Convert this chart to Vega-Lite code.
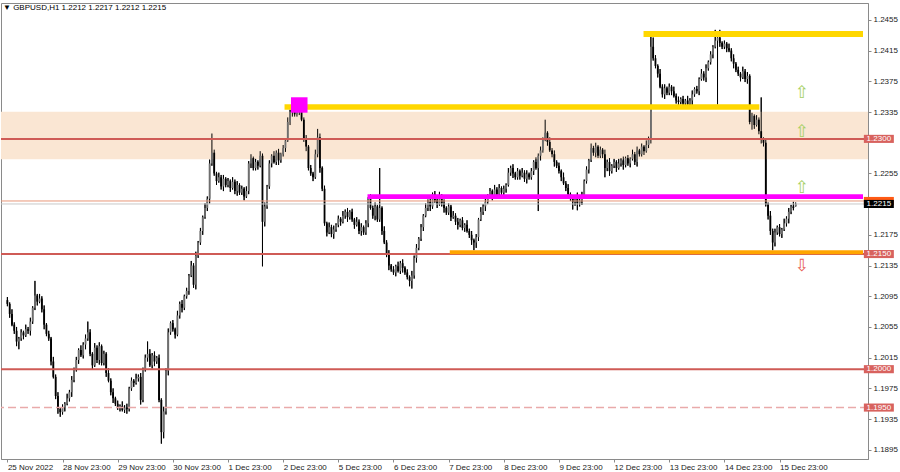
{
"$schema":"https://vega.github.io/schema/vega-lite/v6.json",
"width":867,"height":456,
"autosize":{"type":"none"},
"padding":{"left":1,"top":3,"right":32,"bottom":13},
"background":"white",
"title":{"text":"▼ GBPUSD,H1  1.2212 1.2217 1.2212 1.2215","anchor":"start","offset":-9,"dx":3,"font":"Liberation Sans","fontSize":8,"fontWeight":"normal","color":"#000"},
"config":{"view":{"stroke":"#8a8a8a","strokeWidth":1},"axis":{"labelOverlap":false,"labelBound":false,"labelFlush":false}},
"resolve":{"scale":{"color":"independent","strokeWidth":"independent"}},
"datasets":{"c":[
{"i":0,"o":1.2090,"h":1.2094,"l":1.2082,"c":1.2085},
{"i":1,"o":1.2085,"h":1.2087,"l":1.2067,"c":1.2072},
{"i":2,"o":1.2072,"h":1.2078,"l":1.2056,"c":1.2058},
{"i":3,"o":1.2058,"h":1.2061,"l":1.2046,"c":1.2050},
{"i":4,"o":1.2050,"h":1.2055,"l":1.2030,"c":1.2036},
{"i":5,"o":1.2036,"h":1.2042,"l":1.2026,"c":1.2040},
{"i":6,"o":1.2040,"h":1.2052,"l":1.2037,"c":1.2048},
{"i":7,"o":1.2048,"h":1.2050,"l":1.2039,"c":1.2044},
{"i":8,"o":1.2044,"h":1.2058,"l":1.2042,"c":1.2052},
{"i":9,"o":1.2052,"h":1.2055,"l":1.2046,"c":1.2050},
{"i":10,"o":1.2050,"h":1.2067,"l":1.2044,"c":1.2062},
{"i":11,"o":1.2062,"h":1.2082,"l":1.2059,"c":1.2080},
{"i":12,"o":1.2080,"h":1.2115,"l":1.2077,"c":1.2096},
{"i":13,"o":1.2096,"h":1.2098,"l":1.2083,"c":1.2088},
{"i":14,"o":1.2088,"h":1.2098,"l":1.2086,"c":1.2092},
{"i":15,"o":1.2092,"h":1.2095,"l":1.2074,"c":1.2078},
{"i":16,"o":1.2078,"h":1.2083,"l":1.2052,"c":1.2058},
{"i":17,"o":1.2058,"h":1.2060,"l":1.2043,"c":1.2046},
{"i":18,"o":1.2046,"h":1.2050,"l":1.2037,"c":1.2040},
{"i":19,"o":1.2040,"h":1.2042,"l":1.2005,"c":1.2010},
{"i":20,"o":1.2010,"h":1.2016,"l":1.1988,"c":1.1990},
{"i":21,"o":1.1990,"h":1.1993,"l":1.1961,"c":1.1965},
{"i":22,"o":1.1965,"h":1.1970,"l":1.1942,"c":1.1948},
{"i":23,"o":1.1948,"h":1.1950,"l":1.1938,"c":1.1944},
{"i":24,"o":1.1944,"h":1.1954,"l":1.1941,"c":1.1950},
{"i":25,"o":1.1950,"h":1.1957,"l":1.1945,"c":1.1955},
{"i":26,"o":1.1955,"h":1.1968,"l":1.1953,"c":1.1962},
{"i":27,"o":1.1962,"h":1.1973,"l":1.1958,"c":1.1970},
{"i":28,"o":1.1970,"h":1.1991,"l":1.1964,"c":1.1986},
{"i":29,"o":1.1986,"h":1.2002,"l":1.1983,"c":1.2000},
{"i":30,"o":1.2000,"h":1.2016,"l":1.1997,"c":1.2012},
{"i":31,"o":1.2012,"h":1.2027,"l":1.2007,"c":1.2025},
{"i":32,"o":1.2025,"h":1.2031,"l":1.2016,"c":1.2018},
{"i":33,"o":1.2018,"h":1.2035,"l":1.2014,"c":1.2032},
{"i":34,"o":1.2032,"h":1.2045,"l":1.2026,"c":1.2040},
{"i":35,"o":1.2040,"h":1.2062,"l":1.2037,"c":1.2048},
{"i":36,"o":1.2048,"h":1.2052,"l":1.2017,"c":1.2020},
{"i":37,"o":1.2020,"h":1.2022,"l":1.2000,"c":1.2005},
{"i":38,"o":1.2005,"h":1.2034,"l":1.2003,"c":1.2028},
{"i":39,"o":1.2028,"h":1.2031,"l":1.2008,"c":1.2012},
{"i":40,"o":1.2012,"h":1.2035,"l":1.2006,"c":1.2030},
{"i":41,"o":1.2030,"h":1.2032,"l":1.2005,"c":1.2008},
{"i":42,"o":1.2008,"h":1.2024,"l":1.2005,"c":1.2020},
{"i":43,"o":1.2020,"h":1.2022,"l":1.1990,"c":1.1995},
{"i":44,"o":1.1995,"h":1.2001,"l":1.1983,"c":1.1985},
{"i":45,"o":1.1985,"h":1.1988,"l":1.1966,"c":1.1970},
{"i":46,"o":1.1970,"h":1.1975,"l":1.1956,"c":1.1962},
{"i":47,"o":1.1962,"h":1.1964,"l":1.1952,"c":1.1955},
{"i":48,"o":1.1955,"h":1.1959,"l":1.1947,"c":1.1950},
{"i":49,"o":1.1950,"h":1.1954,"l":1.1945,"c":1.1952},
{"i":50,"o":1.1952,"h":1.1958,"l":1.1945,"c":1.1947},
{"i":51,"o":1.1947,"h":1.1953,"l":1.1943,"c":1.1950},
{"i":52,"o":1.1950,"h":1.1955,"l":1.1942,"c":1.1948},
{"i":53,"o":1.1948,"h":1.1977,"l":1.1945,"c":1.1975},
{"i":54,"o":1.1975,"h":1.1989,"l":1.1972,"c":1.1985},
{"i":55,"o":1.1985,"h":1.1987,"l":1.1977,"c":1.1982},
{"i":56,"o":1.1982,"h":1.1994,"l":1.1980,"c":1.1988},
{"i":57,"o":1.1988,"h":1.1993,"l":1.1984,"c":1.1990},
{"i":58,"o":1.1990,"h":1.1995,"l":1.1954,"c":1.1960},
{"i":59,"o":1.1960,"h":1.2002,"l":1.1957,"c":1.2000},
{"i":60,"o":1.2000,"h":1.2019,"l":1.1997,"c":1.2015},
{"i":61,"o":1.2015,"h":1.2036,"l":1.2010,"c":1.2020},
{"i":62,"o":1.2020,"h":1.2026,"l":1.2003,"c":1.2005},
{"i":63,"o":1.2005,"h":1.2021,"l":1.2001,"c":1.2018},
{"i":64,"o":1.2018,"h":1.2023,"l":1.2004,"c":1.2010},
{"i":65,"o":1.2010,"h":1.2017,"l":1.2007,"c":1.2015},
{"i":66,"o":1.2015,"h":1.2019,"l":1.1957,"c":1.1960},
{"i":67,"o":1.1960,"h":1.1962,"l":1.1903,"c":1.1918},
{"i":68,"o":1.1918,"h":1.1951,"l":1.1910,"c":1.1945},
{"i":69,"o":1.1945,"h":1.2001,"l":1.1941,"c":1.1998},
{"i":70,"o":1.1998,"h":1.2053,"l":1.1992,"c":1.2048},
{"i":71,"o":1.2048,"h":1.2062,"l":1.2045,"c":1.2060},
{"i":72,"o":1.2060,"h":1.2064,"l":1.2049,"c":1.2052},
{"i":73,"o":1.2052,"h":1.2054,"l":1.2040,"c":1.2045},
{"i":74,"o":1.2045,"h":1.2076,"l":1.2043,"c":1.2070},
{"i":75,"o":1.2070,"h":1.2088,"l":1.2066,"c":1.2085},
{"i":76,"o":1.2085,"h":1.2090,"l":1.2074,"c":1.2080},
{"i":77,"o":1.2080,"h":1.2097,"l":1.2077,"c":1.2095},
{"i":78,"o":1.2095,"h":1.2106,"l":1.2092,"c":1.2102},
{"i":79,"o":1.2102,"h":1.2124,"l":1.2097,"c":1.2122},
{"i":80,"o":1.2122,"h":1.2141,"l":1.2120,"c":1.2135},
{"i":81,"o":1.2135,"h":1.2138,"l":1.2106,"c":1.2110},
{"i":82,"o":1.2110,"h":1.2153,"l":1.2104,"c":1.2148},
{"i":83,"o":1.2148,"h":1.2167,"l":1.2145,"c":1.2165},
{"i":84,"o":1.2165,"h":1.2184,"l":1.2162,"c":1.2180},
{"i":85,"o":1.2180,"h":1.2200,"l":1.2175,"c":1.2198},
{"i":86,"o":1.2198,"h":1.2216,"l":1.2196,"c":1.2210},
{"i":87,"o":1.2210,"h":1.2225,"l":1.2206,"c":1.2222},
{"i":88,"o":1.2222,"h":1.2273,"l":1.2216,"c":1.2268},
{"i":89,"o":1.2268,"h":1.2307,"l":1.2265,"c":1.2282},
{"i":90,"o":1.2282,"h":1.2286,"l":1.2252,"c":1.2255},
{"i":91,"o":1.2255,"h":1.2257,"l":1.2240,"c":1.2245},
{"i":92,"o":1.2245,"h":1.2256,"l":1.2243,"c":1.2250},
{"i":93,"o":1.2250,"h":1.2253,"l":1.2234,"c":1.2238},
{"i":94,"o":1.2238,"h":1.2253,"l":1.2232,"c":1.2248},
{"i":95,"o":1.2248,"h":1.2250,"l":1.2237,"c":1.2240},
{"i":96,"o":1.2240,"h":1.2249,"l":1.2237,"c":1.2245},
{"i":97,"o":1.2245,"h":1.2247,"l":1.2231,"c":1.2236},
{"i":98,"o":1.2236,"h":1.2250,"l":1.2234,"c":1.2244},
{"i":99,"o":1.2244,"h":1.2247,"l":1.2228,"c":1.2232},
{"i":100,"o":1.2232,"h":1.2245,"l":1.2226,"c":1.2240},
{"i":101,"o":1.2240,"h":1.2242,"l":1.2227,"c":1.2230},
{"i":102,"o":1.2230,"h":1.2239,"l":1.2227,"c":1.2235},
{"i":103,"o":1.2235,"h":1.2237,"l":1.2220,"c":1.2225},
{"i":104,"o":1.2225,"h":1.2238,"l":1.2223,"c":1.2232},
{"i":105,"o":1.2232,"h":1.2271,"l":1.2228,"c":1.2268},
{"i":106,"o":1.2268,"h":1.2280,"l":1.2262,"c":1.2275},
{"i":107,"o":1.2275,"h":1.2277,"l":1.2259,"c":1.2262},
{"i":108,"o":1.2262,"h":1.2274,"l":1.2259,"c":1.2270},
{"i":109,"o":1.2270,"h":1.2272,"l":1.2260,"c":1.2265},
{"i":110,"o":1.2265,"h":1.2284,"l":1.2263,"c":1.2278},
{"i":111,"o":1.2278,"h":1.2281,"l":1.2134,"c":1.2192},
{"i":112,"o":1.2192,"h":1.2217,"l":1.2186,"c":1.2212},
{"i":113,"o":1.2212,"h":1.2240,"l":1.2209,"c":1.2238},
{"i":114,"o":1.2238,"h":1.2272,"l":1.2235,"c":1.2268},
{"i":115,"o":1.2268,"h":1.2280,"l":1.2263,"c":1.2278},
{"i":116,"o":1.2278,"h":1.2284,"l":1.2268,"c":1.2270},
{"i":117,"o":1.2270,"h":1.2285,"l":1.2266,"c":1.2282},
{"i":118,"o":1.2282,"h":1.2287,"l":1.2266,"c":1.2272},
{"i":119,"o":1.2272,"h":1.2282,"l":1.2269,"c":1.2280},
{"i":120,"o":1.2280,"h":1.2292,"l":1.2277,"c":1.2288},
{"i":121,"o":1.2288,"h":1.2300,"l":1.2283,"c":1.2298},
{"i":122,"o":1.2298,"h":1.2328,"l":1.2296,"c":1.2322},
{"i":123,"o":1.2322,"h":1.2338,"l":1.2318,"c":1.2335},
{"i":124,"o":1.2335,"h":1.2345,"l":1.2329,"c":1.2340},
{"i":125,"o":1.2340,"h":1.2342,"l":1.2329,"c":1.2332},
{"i":126,"o":1.2332,"h":1.2344,"l":1.2329,"c":1.2340},
{"i":127,"o":1.2340,"h":1.2342,"l":1.2331,"c":1.2336},
{"i":128,"o":1.2336,"h":1.2342,"l":1.2323,"c":1.2325},
{"i":129,"o":1.2325,"h":1.2328,"l":1.2296,"c":1.2300},
{"i":130,"o":1.2300,"h":1.2305,"l":1.2284,"c":1.2290},
{"i":131,"o":1.2290,"h":1.2292,"l":1.2259,"c":1.2262},
{"i":132,"o":1.2262,"h":1.2266,"l":1.2252,"c":1.2255},
{"i":133,"o":1.2255,"h":1.2257,"l":1.2245,"c":1.2250},
{"i":134,"o":1.2250,"h":1.2286,"l":1.2248,"c":1.2280},
{"i":135,"o":1.2280,"h":1.2313,"l":1.2276,"c":1.2302},
{"i":136,"o":1.2302,"h":1.2307,"l":1.2256,"c":1.2262},
{"i":137,"o":1.2262,"h":1.2264,"l":1.2232,"c":1.2235},
{"i":138,"o":1.2235,"h":1.2239,"l":1.2187,"c":1.2190},
{"i":139,"o":1.2190,"h":1.2192,"l":1.2173,"c":1.2178},
{"i":140,"o":1.2178,"h":1.2191,"l":1.2176,"c":1.2185},
{"i":141,"o":1.2185,"h":1.2188,"l":1.2172,"c":1.2176},
{"i":142,"o":1.2176,"h":1.2187,"l":1.2170,"c":1.2182},
{"i":143,"o":1.2182,"h":1.2190,"l":1.2179,"c":1.2188},
{"i":144,"o":1.2188,"h":1.2200,"l":1.2185,"c":1.2196},
{"i":145,"o":1.2196,"h":1.2198,"l":1.2187,"c":1.2192},
{"i":146,"o":1.2192,"h":1.2206,"l":1.2190,"c":1.2200},
{"i":147,"o":1.2200,"h":1.2208,"l":1.2196,"c":1.2205},
{"i":148,"o":1.2205,"h":1.2210,"l":1.2192,"c":1.2198},
{"i":149,"o":1.2198,"h":1.2207,"l":1.2195,"c":1.2205},
{"i":150,"o":1.2205,"h":1.2209,"l":1.2192,"c":1.2195},
{"i":151,"o":1.2195,"h":1.2197,"l":1.2183,"c":1.2188},
{"i":152,"o":1.2188,"h":1.2198,"l":1.2186,"c":1.2192},
{"i":153,"o":1.2192,"h":1.2195,"l":1.2176,"c":1.2180},
{"i":154,"o":1.2180,"h":1.2190,"l":1.2174,"c":1.2185},
{"i":155,"o":1.2185,"h":1.2187,"l":1.2175,"c":1.2178},
{"i":156,"o":1.2178,"h":1.2194,"l":1.2175,"c":1.2190},
{"i":157,"o":1.2190,"h":1.2224,"l":1.2185,"c":1.2222},
{"i":158,"o":1.2222,"h":1.2228,"l":1.2208,"c":1.2210},
{"i":159,"o":1.2210,"h":1.2213,"l":1.2196,"c":1.2200},
{"i":160,"o":1.2200,"h":1.2217,"l":1.2194,"c":1.2212},
{"i":161,"o":1.2212,"h":1.2214,"l":1.2192,"c":1.2195},
{"i":162,"o":1.2195,"h":1.2262,"l":1.2192,"c":1.2210},
{"i":163,"o":1.2210,"h":1.2212,"l":1.2175,"c":1.2180},
{"i":164,"o":1.2180,"h":1.2186,"l":1.2163,"c":1.2165},
{"i":165,"o":1.2165,"h":1.2168,"l":1.2146,"c":1.2150},
{"i":166,"o":1.2150,"h":1.2155,"l":1.2129,"c":1.2135},
{"i":167,"o":1.2135,"h":1.2137,"l":1.2127,"c":1.2130},
{"i":168,"o":1.2130,"h":1.2134,"l":1.2123,"c":1.2126},
{"i":169,"o":1.2126,"h":1.2136,"l":1.2121,"c":1.2134},
{"i":170,"o":1.2134,"h":1.2140,"l":1.2126,"c":1.2128},
{"i":171,"o":1.2128,"h":1.2141,"l":1.2124,"c":1.2138},
{"i":172,"o":1.2138,"h":1.2143,"l":1.2126,"c":1.2132},
{"i":173,"o":1.2132,"h":1.2134,"l":1.2123,"c":1.2126},
{"i":174,"o":1.2126,"h":1.2130,"l":1.2117,"c":1.2120},
{"i":175,"o":1.2120,"h":1.2122,"l":1.2108,"c":1.2115},
{"i":176,"o":1.2115,"h":1.2128,"l":1.2105,"c":1.2122},
{"i":177,"o":1.2122,"h":1.2148,"l":1.2118,"c":1.2145},
{"i":178,"o":1.2145,"h":1.2163,"l":1.2139,"c":1.2158},
{"i":179,"o":1.2158,"h":1.2172,"l":1.2155,"c":1.2170},
{"i":180,"o":1.2170,"h":1.2189,"l":1.2167,"c":1.2185},
{"i":181,"o":1.2185,"h":1.2202,"l":1.2180,"c":1.2200},
{"i":182,"o":1.2200,"h":1.2216,"l":1.2198,"c":1.2210},
{"i":183,"o":1.2210,"h":1.2221,"l":1.2206,"c":1.2218},
{"i":184,"o":1.2218,"h":1.2223,"l":1.2206,"c":1.2212},
{"i":185,"o":1.2212,"h":1.2230,"l":1.2209,"c":1.2228},
{"i":186,"o":1.2228,"h":1.2232,"l":1.2217,"c":1.2220},
{"i":187,"o":1.2220,"h":1.2222,"l":1.2210,"c":1.2215},
{"i":188,"o":1.2215,"h":1.2231,"l":1.2213,"c":1.2225},
{"i":189,"o":1.2225,"h":1.2228,"l":1.2212,"c":1.2216},
{"i":190,"o":1.2216,"h":1.2221,"l":1.2204,"c":1.2210},
{"i":191,"o":1.2210,"h":1.2212,"l":1.2201,"c":1.2204},
{"i":192,"o":1.2204,"h":1.2216,"l":1.2201,"c":1.2212},
{"i":193,"o":1.2212,"h":1.2214,"l":1.2193,"c":1.2198},
{"i":194,"o":1.2198,"h":1.2206,"l":1.2196,"c":1.2200},
{"i":195,"o":1.2200,"h":1.2203,"l":1.2188,"c":1.2192},
{"i":196,"o":1.2192,"h":1.2197,"l":1.2182,"c":1.2188},
{"i":197,"o":1.2188,"h":1.2196,"l":1.2185,"c":1.2194},
{"i":198,"o":1.2194,"h":1.2198,"l":1.2181,"c":1.2184},
{"i":199,"o":1.2184,"h":1.2190,"l":1.2179,"c":1.2188},
{"i":200,"o":1.2188,"h":1.2194,"l":1.2178,"c":1.2180},
{"i":201,"o":1.2180,"h":1.2183,"l":1.2171,"c":1.2175},
{"i":202,"o":1.2175,"h":1.2180,"l":1.2162,"c":1.2168},
{"i":203,"o":1.2168,"h":1.2170,"l":1.2155,"c":1.2165},
{"i":204,"o":1.2165,"h":1.2176,"l":1.2158,"c":1.2172},
{"i":205,"o":1.2172,"h":1.2197,"l":1.2167,"c":1.2195},
{"i":206,"o":1.2195,"h":1.2211,"l":1.2193,"c":1.2205},
{"i":207,"o":1.2205,"h":1.2215,"l":1.2201,"c":1.2212},
{"i":208,"o":1.2212,"h":1.2223,"l":1.2206,"c":1.2218},
{"i":209,"o":1.2218,"h":1.2228,"l":1.2215,"c":1.2226},
{"i":210,"o":1.2226,"h":1.2236,"l":1.2223,"c":1.2232},
{"i":211,"o":1.2232,"h":1.2234,"l":1.2220,"c":1.2225},
{"i":212,"o":1.2225,"h":1.2240,"l":1.2223,"c":1.2234},
{"i":213,"o":1.2234,"h":1.2237,"l":1.2224,"c":1.2228},
{"i":214,"o":1.2228,"h":1.2241,"l":1.2222,"c":1.2236},
{"i":215,"o":1.2236,"h":1.2238,"l":1.2227,"c":1.2230},
{"i":216,"o":1.2230,"h":1.2239,"l":1.2227,"c":1.2235},
{"i":217,"o":1.2235,"h":1.2242,"l":1.2230,"c":1.2240},
{"i":218,"o":1.2240,"h":1.2262,"l":1.2238,"c":1.2256},
{"i":219,"o":1.2256,"h":1.2265,"l":1.2252,"c":1.2262},
{"i":220,"o":1.2262,"h":1.2267,"l":1.2249,"c":1.2255},
{"i":221,"o":1.2255,"h":1.2257,"l":1.2247,"c":1.2250},
{"i":222,"o":1.2250,"h":1.2262,"l":1.2247,"c":1.2258},
{"i":223,"o":1.2258,"h":1.2260,"l":1.2247,"c":1.2252},
{"i":224,"o":1.2252,"h":1.2262,"l":1.2250,"c":1.2256},
{"i":225,"o":1.2256,"h":1.2259,"l":1.2244,"c":1.2248},
{"i":226,"o":1.2248,"h":1.2259,"l":1.2242,"c":1.2254},
{"i":227,"o":1.2254,"h":1.2256,"l":1.2247,"c":1.2250},
{"i":228,"o":1.2250,"h":1.2262,"l":1.2247,"c":1.2258},
{"i":229,"o":1.2258,"h":1.2272,"l":1.2253,"c":1.2270},
{"i":230,"o":1.2270,"h":1.2276,"l":1.2260,"c":1.2262},
{"i":231,"o":1.2262,"h":1.2281,"l":1.2206,"c":1.2278},
{"i":232,"o":1.2278,"h":1.2290,"l":1.2272,"c":1.2285},
{"i":233,"o":1.2285,"h":1.2302,"l":1.2282,"c":1.2300},
{"i":234,"o":1.2300,"h":1.2325,"l":1.2297,"c":1.2308},
{"i":235,"o":1.2308,"h":1.2310,"l":1.2291,"c":1.2296},
{"i":236,"o":1.2296,"h":1.2302,"l":1.2283,"c":1.2285},
{"i":237,"o":1.2285,"h":1.2288,"l":1.2276,"c":1.2280},
{"i":238,"o":1.2280,"h":1.2285,"l":1.2264,"c":1.2270},
{"i":239,"o":1.2270,"h":1.2272,"l":1.2262,"c":1.2265},
{"i":240,"o":1.2265,"h":1.2269,"l":1.2255,"c":1.2258},
{"i":241,"o":1.2258,"h":1.2260,"l":1.2245,"c":1.2250},
{"i":242,"o":1.2250,"h":1.2256,"l":1.2240,"c":1.2242},
{"i":243,"o":1.2242,"h":1.2245,"l":1.2232,"c":1.2236},
{"i":244,"o":1.2236,"h":1.2241,"l":1.2222,"c":1.2228},
{"i":245,"o":1.2228,"h":1.2230,"l":1.2219,"c":1.2222},
{"i":246,"o":1.2222,"h":1.2226,"l":1.2208,"c":1.2218},
{"i":247,"o":1.2218,"h":1.2226,"l":1.2213,"c":1.2224},
{"i":248,"o":1.2224,"h":1.2230,"l":1.2207,"c":1.2216},
{"i":249,"o":1.2216,"h":1.2223,"l":1.2212,"c":1.2220},
{"i":250,"o":1.2220,"h":1.2231,"l":1.2214,"c":1.2226},
{"i":251,"o":1.2226,"h":1.2247,"l":1.2223,"c":1.2245},
{"i":252,"o":1.2245,"h":1.2264,"l":1.2242,"c":1.2260},
{"i":253,"o":1.2260,"h":1.2274,"l":1.2255,"c":1.2272},
{"i":254,"o":1.2272,"h":1.2294,"l":1.2270,"c":1.2288},
{"i":255,"o":1.2288,"h":1.2291,"l":1.2278,"c":1.2282},
{"i":256,"o":1.2282,"h":1.2295,"l":1.2276,"c":1.2290},
{"i":257,"o":1.2290,"h":1.2292,"l":1.2275,"c":1.2278},
{"i":258,"o":1.2278,"h":1.2290,"l":1.2275,"c":1.2286},
{"i":259,"o":1.2286,"h":1.2288,"l":1.2275,"c":1.2280},
{"i":260,"o":1.2280,"h":1.2286,"l":1.2250,"c":1.2262},
{"i":261,"o":1.2262,"h":1.2273,"l":1.2258,"c":1.2270},
{"i":262,"o":1.2270,"h":1.2275,"l":1.2252,"c":1.2258},
{"i":263,"o":1.2258,"h":1.2267,"l":1.2255,"c":1.2265},
{"i":264,"o":1.2265,"h":1.2274,"l":1.2262,"c":1.2270},
{"i":265,"o":1.2270,"h":1.2272,"l":1.2257,"c":1.2262},
{"i":266,"o":1.2262,"h":1.2274,"l":1.2260,"c":1.2268},
{"i":267,"o":1.2268,"h":1.2275,"l":1.2264,"c":1.2272},
{"i":268,"o":1.2272,"h":1.2277,"l":1.2260,"c":1.2266},
{"i":269,"o":1.2266,"h":1.2277,"l":1.2263,"c":1.2275},
{"i":270,"o":1.2275,"h":1.2279,"l":1.2265,"c":1.2268},
{"i":271,"o":1.2268,"h":1.2276,"l":1.2263,"c":1.2274},
{"i":272,"o":1.2274,"h":1.2286,"l":1.2272,"c":1.2280},
{"i":273,"o":1.2280,"h":1.2283,"l":1.2266,"c":1.2270},
{"i":274,"o":1.2270,"h":1.2290,"l":1.2264,"c":1.2285},
{"i":275,"o":1.2285,"h":1.2287,"l":1.2277,"c":1.2280},
{"i":276,"o":1.2280,"h":1.2294,"l":1.2277,"c":1.2290},
{"i":277,"o":1.2290,"h":1.2292,"l":1.2279,"c":1.2284},
{"i":278,"o":1.2284,"h":1.2298,"l":1.2282,"c":1.2292},
{"i":279,"o":1.2292,"h":1.2303,"l":1.2288,"c":1.2300},
{"i":280,"o":1.2300,"h":1.2437,"l":1.2294,"c":1.2420},
{"i":281,"o":1.2420,"h":1.2432,"l":1.2402,"c":1.2405},
{"i":282,"o":1.2405,"h":1.2409,"l":1.2392,"c":1.2395},
{"i":283,"o":1.2395,"h":1.2397,"l":1.2380,"c":1.2385},
{"i":284,"o":1.2385,"h":1.2391,"l":1.2366,"c":1.2368},
{"i":285,"o":1.2368,"h":1.2371,"l":1.2354,"c":1.2358},
{"i":286,"o":1.2358,"h":1.2371,"l":1.2352,"c":1.2366},
{"i":287,"o":1.2366,"h":1.2368,"l":1.2357,"c":1.2360},
{"i":288,"o":1.2360,"h":1.2372,"l":1.2357,"c":1.2368},
{"i":289,"o":1.2368,"h":1.2370,"l":1.2357,"c":1.2362},
{"i":290,"o":1.2362,"h":1.2368,"l":1.2354,"c":1.2356},
{"i":291,"o":1.2356,"h":1.2359,"l":1.2346,"c":1.2350},
{"i":292,"o":1.2350,"h":1.2355,"l":1.2342,"c":1.2348},
{"i":293,"o":1.2348,"h":1.2354,"l":1.2345,"c":1.2352},
{"i":294,"o":1.2352,"h":1.2356,"l":1.2343,"c":1.2346},
{"i":295,"o":1.2346,"h":1.2352,"l":1.2341,"c":1.2350},
{"i":296,"o":1.2350,"h":1.2356,"l":1.2343,"c":1.2345},
{"i":297,"o":1.2345,"h":1.2353,"l":1.2341,"c":1.2350},
{"i":298,"o":1.2350,"h":1.2363,"l":1.2344,"c":1.2358},
{"i":299,"o":1.2358,"h":1.2367,"l":1.2355,"c":1.2365},
{"i":300,"o":1.2365,"h":1.2369,"l":1.2359,"c":1.2362},
{"i":301,"o":1.2362,"h":1.2380,"l":1.2357,"c":1.2378},
{"i":302,"o":1.2378,"h":1.2391,"l":1.2376,"c":1.2385},
{"i":303,"o":1.2385,"h":1.2388,"l":1.2376,"c":1.2380},
{"i":304,"o":1.2380,"h":1.2397,"l":1.2374,"c":1.2392},
{"i":305,"o":1.2392,"h":1.2402,"l":1.2389,"c":1.2400},
{"i":306,"o":1.2400,"h":1.2414,"l":1.2397,"c":1.2410},
{"i":307,"o":1.2410,"h":1.2422,"l":1.2405,"c":1.2420},
{"i":308,"o":1.2420,"h":1.2442,"l":1.2418,"c":1.2428},
{"i":309,"o":1.2428,"h":1.2440,"l":1.2345,"c":1.2432},
{"i":310,"o":1.2432,"h":1.2442,"l":1.2420,"c":1.2425},
{"i":311,"o":1.2425,"h":1.2427,"l":1.2417,"c":1.2420},
{"i":312,"o":1.2420,"h":1.2428,"l":1.2417,"c":1.2424},
{"i":313,"o":1.2424,"h":1.2426,"l":1.2413,"c":1.2418},
{"i":314,"o":1.2418,"h":1.2424,"l":1.2413,"c":1.2415},
{"i":315,"o":1.2415,"h":1.2418,"l":1.2401,"c":1.2405},
{"i":316,"o":1.2405,"h":1.2410,"l":1.2392,"c":1.2398},
{"i":317,"o":1.2398,"h":1.2400,"l":1.2387,"c":1.2390},
{"i":318,"o":1.2390,"h":1.2394,"l":1.2382,"c":1.2385},
{"i":319,"o":1.2385,"h":1.2387,"l":1.2375,"c":1.2380},
{"i":320,"o":1.2380,"h":1.2394,"l":1.2378,"c":1.2388},
{"i":321,"o":1.2388,"h":1.2391,"l":1.2374,"c":1.2378},
{"i":322,"o":1.2378,"h":1.2387,"l":1.2372,"c":1.2382},
{"i":323,"o":1.2382,"h":1.2384,"l":1.2319,"c":1.2322},
{"i":324,"o":1.2322,"h":1.2334,"l":1.2312,"c":1.2330},
{"i":325,"o":1.2330,"h":1.2332,"l":1.2313,"c":1.2318},
{"i":326,"o":1.2318,"h":1.2331,"l":1.2316,"c":1.2325},
{"i":327,"o":1.2325,"h":1.2328,"l":1.2306,"c":1.2310},
{"i":328,"o":1.2310,"h":1.2354,"l":1.2294,"c":1.2300},
{"i":329,"o":1.2300,"h":1.2302,"l":1.2290,"c":1.2295},
{"i":330,"o":1.2295,"h":1.2299,"l":1.2212,"c":1.2215},
{"i":331,"o":1.2215,"h":1.2217,"l":1.2195,"c":1.2200},
{"i":332,"o":1.2200,"h":1.2206,"l":1.2175,"c":1.2180},
{"i":333,"o":1.2180,"h":1.2183,"l":1.2155,"c":1.2165},
{"i":334,"o":1.2165,"h":1.2183,"l":1.2160,"c":1.2178},
{"i":335,"o":1.2178,"h":1.2187,"l":1.2175,"c":1.2185},
{"i":336,"o":1.2185,"h":1.2189,"l":1.2173,"c":1.2176},
{"i":337,"o":1.2176,"h":1.2184,"l":1.2171,"c":1.2182},
{"i":338,"o":1.2182,"h":1.2196,"l":1.2180,"c":1.2190},
{"i":339,"o":1.2190,"h":1.2199,"l":1.2186,"c":1.2196},
{"i":340,"o":1.2196,"h":1.2210,"l":1.2190,"c":1.2205},
{"i":341,"o":1.2205,"h":1.2214,"l":1.2202,"c":1.2212},
{"i":342,"o":1.2212,"h":1.2218,"l":1.2207,"c":1.2210},
{"i":343,"o":1.2212,"h":1.2217,"l":1.2212,"c":1.2215}
]},
"layer":[
{"data":{"name":"c"},
 "mark":{"type":"rule","color":"#000000","strokeWidth":1},
 "encoding":{
  "x":{"field":"i","type":"quantitative","title":null,"scale":{"domain":[-0.6,372.3],"nice":false,"zero":false},
   "axis":{"orient":"bottom","values":[0,24,48,72,96,120,144,168,192,216,240,264,288,312,336],"tickCount":40,
    "labelExpr":"['25 Nov 2022','28 Nov 23:00','29 Nov 23:00','30 Nov 23:00','1 Dec 23:00','2 Dec 23:00','5 Dec 23:00','6 Dec 23:00','7 Dec 23:00','8 Dec 23:00','9 Dec 23:00','12 Dec 23:00','13 Dec 23:00','14 Dec 23:00','15 Dec 23:00'][round(datum.value/24)]",
    "labelAlign":"left","labelBaseline":"top","labelPadding":1,"tickSize":3,"grid":false,"title":null,
    "labelFont":"Liberation Sans","labelFontSize":8,"labelColor":"#222222","domainColor":"#8a8a8a","tickColor":"#8a8a8a",
    "labelOverlap":false,"labelBound":false,"labelFlush":false}},
  "y":{"field":"l","type":"quantitative","title":null,"scale":{"domain":[1.1883,1.2477],"nice":false,"zero":false},
   "axis":{"orient":"right","values":[1.2455,1.2415,1.2375,1.2335,1.2255,1.2175,1.2135,1.2095,1.2055,1.2015,1.1975,1.1935,1.1895],"tickCount":40,
    "format":".4f","labelPadding":2,"tickSize":3,"grid":false,"title":null,
    "labelFont":"Liberation Sans","labelFontSize":8,"labelColor":"#222222","domainColor":"#8a8a8a","tickColor":"#8a8a8a",
    "labelOverlap":false,"labelBound":false,"labelFlush":false,"labelBaseline":"middle"}},
  "y2":{"field":"h"}}},
{"data":{"values":[{"a":1.22734,"b":1.23354}]},
 "mark":{"type":"rect","color":"#FAE6D3"},
 "encoding":{"y":{"field":"a","type":"quantitative","title":null,"scale":{"domain":[1.1883,1.2477],"nice":false,"zero":false}},"y2":{"field":"b"}}},
{"data":{"name":"c"},
 "mark":{"type":"rule","color":"#000000","strokeWidth":1},
 "encoding":{
  "x":{"field":"i","type":"quantitative","title":null,"scale":{"domain":[-0.6,372.3],"nice":false,"zero":false}},
  "y":{"field":"l","type":"quantitative","title":null,"scale":{"domain":[1.1883,1.2477],"nice":false,"zero":false}},
  "y2":{"field":"h"}}},
{"data":{"name":"c"},
 "mark":{"type":"bar","width":1.8},
 "encoding":{
  "x":{"field":"i","type":"quantitative","title":null,"scale":{"domain":[-0.6,372.3],"nice":false,"zero":false}},
  "y":{"field":"o","type":"quantitative","title":null,"scale":{"domain":[1.1883,1.2477],"nice":false,"zero":false}},
  "y2":{"field":"c"},
  "color":{"condition":{"test":"datum.c >= datum.o","value":"#6e6e6e"},"value":"#000000"}}},
{"data":{"values":[{"p":1.2300},{"p":1.2150},{"p":1.2000}]},
 "mark":{"type":"rule","color":"#CF5B56","strokeWidth":2},
 "encoding":{"y":{"field":"p","type":"quantitative","title":null,"scale":{"domain":[1.1883,1.2477],"nice":false,"zero":false}}}},
{"data":{"values":[{"p":1.1950}]},
 "mark":{"type":"rule","color":"#E9AAAA","strokeWidth":1.5,"strokeDash":[8,4]},
 "encoding":{"y":{"field":"p","type":"quantitative","title":null,"scale":{"domain":[1.1883,1.2477],"nice":false,"zero":false}}}},
{"data":{"values":[{"p":1.22191}]},
 "mark":{"type":"rule","color":"#E8977A","strokeWidth":1},
 "encoding":{"y":{"field":"p","type":"quantitative","title":null,"scale":{"domain":[1.1883,1.2477],"nice":false,"zero":false}}}},
{"data":{"values":[{"p":1.22152}]},
 "mark":{"type":"rule","color":"#C8C8C8","strokeWidth":1},
 "encoding":{"y":{"field":"p","type":"quantitative","title":null,"scale":{"domain":[1.1883,1.2477],"nice":false,"zero":false}}}},
{"data":{"values":[{"a":276.8,"b":372.3,"p":1.24366,"k":"y1"},{"a":120.6,"b":327.2,"p":1.23415,"k":"y2"},{"a":156.7,"b":372.3,"p":1.22247,"k":"m"},{"a":192.5,"b":372.3,"p":1.21523,"k":"o"}]},
 "mark":{"type":"rule"},
 "encoding":{
  "x":{"field":"a","type":"quantitative","title":null,"scale":{"domain":[-0.6,372.3],"nice":false,"zero":false}},
  "x2":{"field":"b"},
  "y":{"field":"p","type":"quantitative","title":null,"scale":{"domain":[1.1883,1.2477],"nice":false,"zero":false}},
  "color":{"field":"k","type":"nominal","scale":{"domain":["y1","y2","m","o"],"range":["#FFD700","#FFD700","#FF00FF","#FFA500"]},"legend":null},
  "strokeWidth":{"field":"k","type":"nominal","scale":{"domain":["y1","y2","m","o"],"range":[6,4,4,2.5]},"legend":null}}},
{"data":{"values":[{"a":123.4,"b":130.6,"y1":1.23341,"y2":1.23542}]},
 "mark":{"type":"rect","color":"#FF00FF"},
 "encoding":{
  "x":{"field":"a","type":"quantitative","title":null,"scale":{"domain":[-0.6,372.3],"nice":false,"zero":false}},
  "x2":{"field":"b"},
  "y":{"field":"y1","type":"quantitative","title":null,"scale":{"domain":[1.1883,1.2477],"nice":false,"zero":false}},
  "y2":{"field":"y2"}}},
{"data":{"values":[{"i":345.7,"p":1.23602,"t":"⇧"},{"i":345.7,"p":1.23094,"t":"⇧"},{"i":345.7,"p":1.22356,"t":"⇧"}]},
 "mark":{"type":"text","font":"DejaVu Sans","fontSize":17,"align":"center","baseline":"middle","color":"#A6D064"},
 "encoding":{
  "x":{"field":"i","type":"quantitative","title":null,"scale":{"domain":[-0.6,372.3],"nice":false,"zero":false}},
  "y":{"field":"p","type":"quantitative","title":null,"scale":{"domain":[1.1883,1.2477],"nice":false,"zero":false}},
  "text":{"field":"t"}}},
{"data":{"values":[{"i":345.7,"p":1.21344,"t":"⇩"}]},
 "mark":{"type":"text","font":"DejaVu Sans","fontSize":17,"align":"center","baseline":"middle","color":"#E86058"},
 "encoding":{
  "x":{"field":"i","type":"quantitative","title":null,"scale":{"domain":[-0.6,372.3],"nice":false,"zero":false}},
  "y":{"field":"p","type":"quantitative","title":null,"scale":{"domain":[1.1883,1.2477],"nice":false,"zero":false}},
  "text":{"field":"t"}}},
{"data":{"values":[{"p":1.2300},{"p":1.2150},{"p":1.2000},{"p":1.1950}]},
 "mark":{"type":"point","filled":true,"opacity":1,"strokeWidth":0,"shape":"M-1,-0.27L1,-0.27L1,0.27L-1,0.27Z","size":900,"color":"#D8625E"},
 "encoding":{
  "x":{"datum":379.2,"type":"quantitative","scale":{"domain":[-0.6,372.3],"nice":false,"zero":false}},
  "y":{"field":"p","type":"quantitative","title":null,"scale":{"domain":[1.1883,1.2477],"nice":false,"zero":false}}}},
{"data":{"values":[{"p":1.22191}]},
 "mark":{"type":"point","filled":true,"opacity":1,"strokeWidth":0,"shape":"M-1,-0.27L1,-0.27L1,0.27L-1,0.27Z","size":900,"color":"#FF5A14"},
 "encoding":{
  "x":{"datum":379.2,"type":"quantitative","scale":{"domain":[-0.6,372.3],"nice":false,"zero":false}},
  "y":{"field":"p","type":"quantitative","title":null,"scale":{"domain":[1.1883,1.2477],"nice":false,"zero":false}}}},
{"data":{"values":[{"p":1.22152}]},
 "mark":{"type":"point","filled":true,"opacity":1,"strokeWidth":0,"shape":"M-1,-0.27L1,-0.27L1,0.27L-1,0.27Z","size":900,"color":"#000000"},
 "encoding":{
  "x":{"datum":379.2,"type":"quantitative","scale":{"domain":[-0.6,372.3],"nice":false,"zero":false}},
  "y":{"field":"p","type":"quantitative","title":null,"scale":{"domain":[1.1883,1.2477],"nice":false,"zero":false}}}},
{"data":{"values":[{"p":1.2300,"t":"1.2300"},{"p":1.2150,"t":"1.2150"},{"p":1.2000,"t":"1.2000"},{"p":1.1950,"t":"1.1950"},{"p":1.22152,"t":"1.2215"}]},
 "mark":{"type":"text","font":"Liberation Sans","fontSize":8,"align":"center","baseline":"middle","color":"#FFFFFF"},
 "encoding":{
  "x":{"datum":379.2,"type":"quantitative","scale":{"domain":[-0.6,372.3],"nice":false,"zero":false}},
  "y":{"field":"p","type":"quantitative","title":null,"scale":{"domain":[1.1883,1.2477],"nice":false,"zero":false}},
  "text":{"field":"t"}}}
]
}
